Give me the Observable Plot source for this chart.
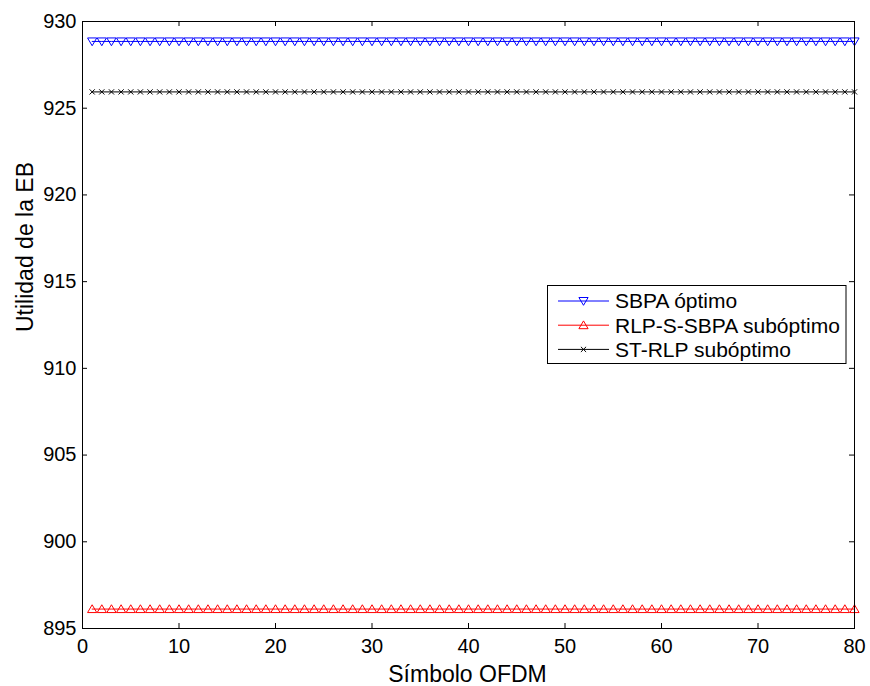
<!DOCTYPE html>
<html>
<head>
<meta charset="utf-8">
<script src="https://cdn.jsdelivr.net/npm/d3@7"></script>
<script src="https://cdn.jsdelivr.net/npm/@observablehq/plot@0.6"></script>
<style>
  html, body { margin: 0; padding: 0; background: #fff; }
  #chart { width: 870px; height: 686px; }
</style>
</head>
<body>
<div id="chart"></div>
<script>
// OFDM symbol index
const simbolo = [
  1, 2, 3, 4, 5, 6, 7, 8, 9, 10, 11, 12, 13, 14, 15, 16, 17, 18, 19, 20,
  21, 22, 23, 24, 25, 26, 27, 28, 29, 30, 31, 32, 33, 34, 35, 36, 37, 38, 39, 40,
  41, 42, 43, 44, 45, 46, 47, 48, 49, 50, 51, 52, 53, 54, 55, 56, 57, 58, 59, 60,
  61, 62, 63, 64, 65, 66, 67, 68, 69, 70, 71, 72, 73, 74, 75, 76, 77, 78, 79, 80
];

// Base-station utility per symbol, one array per allocation scheme
const sbpaOptimo = [
  928.85, 928.85, 928.85, 928.85, 928.85, 928.85, 928.85, 928.85, 928.85, 928.85,
  928.85, 928.85, 928.85, 928.85, 928.85, 928.85, 928.85, 928.85, 928.85, 928.85,
  928.85, 928.85, 928.85, 928.85, 928.85, 928.85, 928.85, 928.85, 928.85, 928.85,
  928.85, 928.85, 928.85, 928.85, 928.85, 928.85, 928.85, 928.85, 928.85, 928.85,
  928.85, 928.85, 928.85, 928.85, 928.85, 928.85, 928.85, 928.85, 928.85, 928.85,
  928.85, 928.85, 928.85, 928.85, 928.85, 928.85, 928.85, 928.85, 928.85, 928.85,
  928.85, 928.85, 928.85, 928.85, 928.85, 928.85, 928.85, 928.85, 928.85, 928.85,
  928.85, 928.85, 928.85, 928.85, 928.85, 928.85, 928.85, 928.85, 928.85, 928.85
];
const rlpSSbpa = [
  896.12, 896.12, 896.12, 896.12, 896.12, 896.12, 896.12, 896.12, 896.12, 896.12,
  896.12, 896.12, 896.12, 896.12, 896.12, 896.12, 896.12, 896.12, 896.12, 896.12,
  896.12, 896.12, 896.12, 896.12, 896.12, 896.12, 896.12, 896.12, 896.12, 896.12,
  896.12, 896.12, 896.12, 896.12, 896.12, 896.12, 896.12, 896.12, 896.12, 896.12,
  896.12, 896.12, 896.12, 896.12, 896.12, 896.12, 896.12, 896.12, 896.12, 896.12,
  896.12, 896.12, 896.12, 896.12, 896.12, 896.12, 896.12, 896.12, 896.12, 896.12,
  896.12, 896.12, 896.12, 896.12, 896.12, 896.12, 896.12, 896.12, 896.12, 896.12,
  896.12, 896.12, 896.12, 896.12, 896.12, 896.12, 896.12, 896.12, 896.12, 896.12
];
const stRlp = [
  925.94, 925.94, 925.94, 925.94, 925.94, 925.94, 925.94, 925.94, 925.94, 925.94,
  925.94, 925.94, 925.94, 925.94, 925.94, 925.94, 925.94, 925.94, 925.94, 925.94,
  925.94, 925.94, 925.94, 925.94, 925.94, 925.94, 925.94, 925.94, 925.94, 925.94,
  925.94, 925.94, 925.94, 925.94, 925.94, 925.94, 925.94, 925.94, 925.94, 925.94,
  925.94, 925.94, 925.94, 925.94, 925.94, 925.94, 925.94, 925.94, 925.94, 925.94,
  925.94, 925.94, 925.94, 925.94, 925.94, 925.94, 925.94, 925.94, 925.94, 925.94,
  925.94, 925.94, 925.94, 925.94, 925.94, 925.94, 925.94, 925.94, 925.94, 925.94,
  925.94, 925.94, 925.94, 925.94, 925.94, 925.94, 925.94, 925.94, 925.94, 925.94
];

const seriesNames = ["SBPA óptimo", "RLP-S-SBPA subóptimo", "ST-RLP subóptimo"];
const xTicks = [0, 10, 20, 30, 40, 50, 60, 70, 80];
const yTicks = [895, 900, 905, 910, 915, 920, 925, 930];

// Marker shapes in the style of MATLAB's 'v', '^' and 'x'
const triDown = { draw(c) { c.moveTo(-4.6, -3.5); c.lineTo(4.6, -3.5); c.lineTo(0, 4.3); c.closePath(); } };
const triUp   = { draw(c) { c.moveTo(-4.6, 3.5); c.lineTo(4.6, 3.5); c.lineTo(0, -4.3); c.closePath(); } };
const cross   = { draw(c) { c.moveTo(-2.6, -2.6); c.lineTo(2.6, 2.6); c.moveTo(-2.6, 2.6); c.lineTo(2.6, -2.6); } };

const series = [
  { name: seriesNames[0], values: sbpaOptimo, color: "#0000ff", symbol: triDown },
  { name: seriesNames[1], values: rlpSSbpa,   color: "#ff0000", symbol: triUp },
  { name: seriesNames[2], values: stRlp,      color: "#000000", symbol: cross }
];

const rows = series.flatMap(s => simbolo.map((x, i) => ({ x, y: s.values[i], name: s.name })));

const W = 870, H = 686;
const mL = 82, mR = 16, mT = 21, mB = 58;
const innerW = W - mL - mR, innerH = H - mT - mB;
const tick = 5;
const font = "'Liberation Sans', Arial, Helvetica, sans-serif";

const marks = [];
for (const s of series) {
  const d = rows.filter(r => r.name === s.name);
  marks.push(Plot.line(d, { x: "x", y: "y", stroke: s.color, strokeWidth: 1 }));
  marks.push(Plot.dot(d, { x: "x", y: "y", symbol: () => s.symbol, stroke: s.color, strokeWidth: 1, fill: "none", r: 4 }));
}

const chart = Plot.plot({
  width: W,
  height: H,
  marginLeft: mL,
  marginRight: mR,
  marginTop: mT,
  marginBottom: mB,
  style: { fontFamily: font, fontSize: "20px", color: "#000", background: "#fff", overflow: "visible" },
  x: { domain: [0, 80], axis: null },
  y: { domain: [895, 930], axis: null },
  symbol: { type: "identity" },
  marks: [
    ...marks,
    // inward ticks on all four sides
    Plot.ruleX(xTicks, { x: d => d, insetTop: innerH - tick, stroke: "#000" }),
    Plot.ruleX(xTicks, { x: d => d, insetBottom: innerH - tick, stroke: "#000" }),
    Plot.ruleY(yTicks, { y: d => d, insetRight: innerW - tick, stroke: "#000" }),
    Plot.ruleY(yTicks, { y: d => d, insetLeft: innerW - tick, stroke: "#000" }),
    // tick labels
    Plot.text(xTicks, { x: d => d, text: d => String(d), frameAnchor: "bottom", dy: 24, lineAnchor: "bottom", fontSize: 20, fill: "#000" }),
    Plot.text(yTicks, { y: d => d, text: d => String(d), frameAnchor: "left", dx: -6, textAnchor: "end", lineAnchor: "middle", fontSize: 20, fill: "#000" }),
    // axis titles
    Plot.text(["Símbolo OFDM"], { text: d => d, frameAnchor: "bottom", dy: 53, dx: -1, lineAnchor: "bottom", fontSize: 23, fill: "#000" }),
    Plot.text(["Utilidad de la EB"], { text: d => d, frameAnchor: "left", rotate: -90, dx: -50, dy: 7, lineAnchor: "bottom", fontSize: 23, fill: "#000" }),
    Plot.frame({ stroke: "#000", strokeWidth: 1 })
  ]
});

// Legend box drawn inside the axes
const svg = d3.select(chart);
const lg = svg.append("g").attr("font-family", font).attr("font-size", 21).attr("text-anchor", "start");
const box = { x: 547.5, y: 285.5, w: 298.5, h: 78 };
lg.append("rect").attr("x", box.x).attr("y", box.y).attr("width", box.w).attr("height", box.h)
  .attr("fill", "#fff").attr("stroke", "#000").attr("stroke-width", 1);
series.forEach((s, i) => {
  const cy = box.y + 15.5 + i * 24.2;
  const row = lg.append("g");
  row.append("line").attr("x1", 558).attr("x2", 609).attr("y1", cy).attr("y2", cy)
    .attr("stroke", s.color).attr("stroke-width", 1);
  const p = d3.path();
  s.symbol.draw(p);
  row.append("path").attr("d", p.toString()).attr("transform", `translate(583.5,${cy})`)
    .attr("fill", "none").attr("stroke", s.color).attr("stroke-width", 1);
  row.append("text").attr("x", 615).attr("y", cy).attr("dy", "0.35em")
    .attr("text-anchor", "start").attr("fill", "#000").text(s.name);
});

document.getElementById("chart").appendChild(chart);
</script>
</body>
</html>
